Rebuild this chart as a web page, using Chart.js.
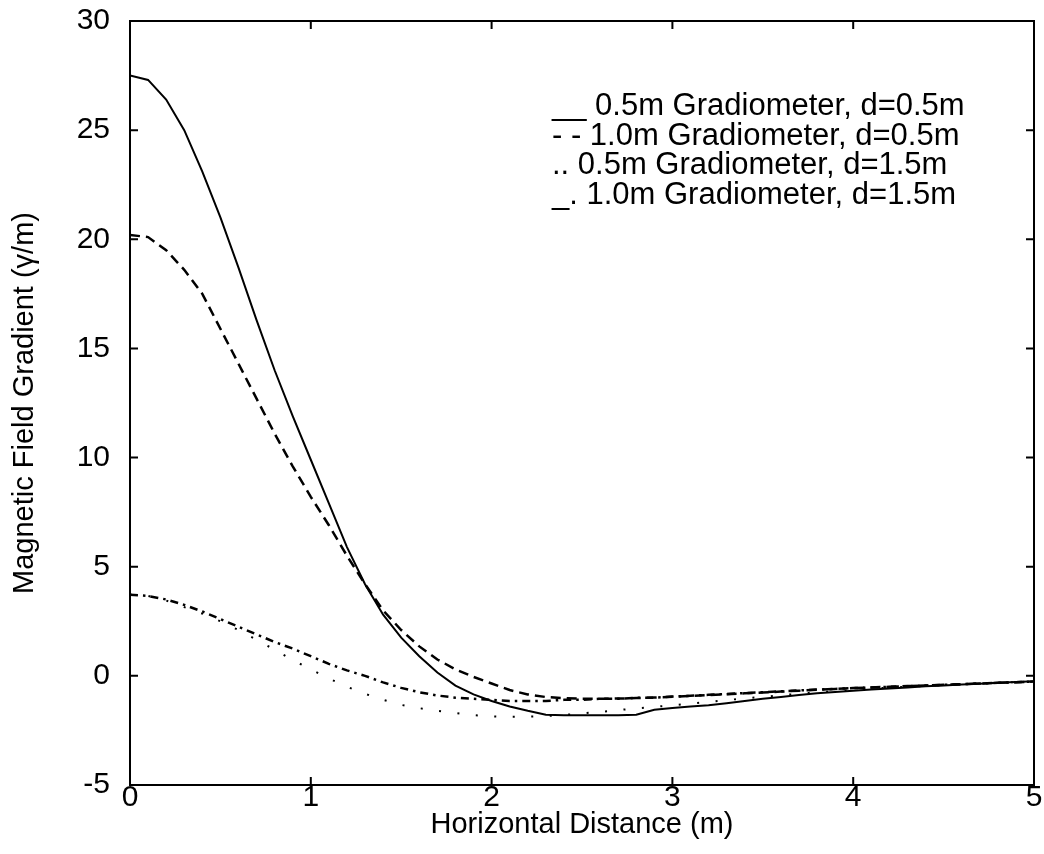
<!DOCTYPE html>
<html>
<head>
<meta charset="utf-8">
<title>Magnetic Field Gradient</title>
<script src="https://cdn.jsdelivr.net/npm/chart.js@4.4.1/dist/chart.umd.min.js"></script>
<style>
  html, body { margin: 0; padding: 0; background: #fff; }
  #wrap { width: 1044px; height: 854px; position: relative; }
</style>
</head>
<body>
<div id="wrap"><canvas id="gradient-chart"></canvas></div>
<script>
// horizontal distance along the profile (m)
const distance = [
  0.0, 0.1, 0.2, 0.3, 0.4, 0.5, 0.6, 0.7, 0.8, 0.9,
  1.0, 1.1, 1.2, 1.3, 1.4, 1.5, 1.6, 1.7, 1.8, 1.9,
  2.0, 2.1, 2.2, 2.3, 2.4, 2.5, 2.6, 2.7, 2.8, 2.9,
  3.0, 3.1, 3.2, 3.3, 3.4, 3.5, 3.6, 3.7, 3.8, 3.9,
  4.0, 4.1, 4.2, 4.3, 4.4, 4.5, 4.6, 4.7, 4.8, 4.9, 5.0
];

// gradient in gamma/m for each gradiometer / depth combination
const grad05_d05 = [
  27.5, 27.3, 26.4, 25.0, 23.1, 21.0, 18.7, 16.3, 14.0, 11.9,
  9.9, 7.9, 5.9, 4.2, 2.8, 1.75, 0.9, 0.15, -0.45, -0.85,
  -1.15, -1.4, -1.6, -1.78, -1.8, -1.8, -1.8, -1.8, -1.78, -1.55,
  -1.47, -1.4, -1.35, -1.25, -1.15, -1.05, -0.97, -0.88, -0.8, -0.74,
  -0.68, -0.63, -0.58, -0.53, -0.48, -0.44, -0.4, -0.36, -0.32, -0.28, -0.25
];
const grad10_d05 = [
  20.2, 20.1, 19.5, 18.6, 17.5, 15.9, 14.3, 12.7, 11.1, 9.6,
  8.2, 6.9, 5.5, 4.2, 3.0, 2.1, 1.35, 0.75, 0.3, -0.05,
  -0.35, -0.65, -0.85, -0.97, -1.02, -1.05, -1.05, -1.04, -1.02, -0.99,
  -0.96, -0.92, -0.88, -0.84, -0.8, -0.76, -0.72, -0.68, -0.64, -0.6,
  -0.56, -0.53, -0.5, -0.47, -0.44, -0.41, -0.38, -0.35, -0.32, -0.29, -0.26
];
const grad05_d15 = [
  3.72, 3.66, 3.45, 3.15, 2.85, 2.5, 2.1, 1.65, 1.2, 0.72,
  0.3, -0.12, -0.5, -0.82, -1.1, -1.33, -1.48, -1.6, -1.7, -1.8,
  -1.86, -1.88, -1.87, -1.84, -1.79, -1.72, -1.65, -1.57, -1.49, -1.42,
  -1.35, -1.27, -1.19, -1.11, -1.03, -0.96, -0.89, -0.82, -0.76, -0.7,
  -0.64, -0.59, -0.54, -0.5, -0.46, -0.42, -0.38, -0.35, -0.32, -0.29, -0.26
];
const grad10_d15 = [
  3.72, 3.66, 3.5, 3.25, 2.95, 2.6, 2.25, 1.9, 1.55, 1.25,
  0.9, 0.55, 0.25, 0.0, -0.3, -0.55, -0.75, -0.9, -1.0, -1.05,
  -1.1, -1.15, -1.15, -1.15, -1.1, -1.1, -1.05, -1.05, -1.0, -1.0,
  -0.95, -0.91, -0.87, -0.83, -0.79, -0.75, -0.71, -0.67, -0.63, -0.6,
  -0.56, -0.53, -0.5, -0.47, -0.44, -0.41, -0.38, -0.35, -0.32, -0.29, -0.26
];

const legendLines = [
  "__ 0.5m Gradiometer, d=0.5m",
  "- - 1.0m Gradiometer, d=0.5m",
  ".. 0.5m Gradiometer, d=1.5m",
  "_. 1.0m Gradiometer, d=1.5m"
];

const xTicks = [0, 1, 2, 3, 4, 5];
const yTicks = [-5, 0, 5, 10, 15, 20, 25, 30];

const FONT = "'Liberation Sans', Arial, Helvetica, sans-serif";

function toPoints(values) {
  return distance.map((d, i) => ({ x: d, y: values[i] }));
}

function lineSet(label, values, dash, width) {
  return {
    label: label,
    data: toPoints(values),
    borderColor: "#000",
    backgroundColor: "#000",
    borderWidth: width,
    borderDash: dash,
    borderCapStyle: "butt",
    pointRadius: 0,
    tension: 0,
    fill: false
  };
}

// box around the plot, ticks pointing inwards on every side, and the text legend
const framePlugin = {
  id: "frame",
  afterDatasetsDraw(chart) {
    const ctx = chart.ctx;
    const a = chart.chartArea;
    const xs = chart.scales.x;
    const ys = chart.scales.y;
    const len = 8;
    ctx.save();
    ctx.strokeStyle = "#000";
    ctx.lineWidth = 2;
    ctx.strokeRect(a.left, a.top, a.right - a.left, a.bottom - a.top);
    ctx.beginPath();
    xTicks.forEach(v => {
      const px = xs.getPixelForValue(v);
      ctx.moveTo(px, a.bottom); ctx.lineTo(px, a.bottom - len);
      ctx.moveTo(px, a.top); ctx.lineTo(px, a.top + len);
    });
    yTicks.forEach(v => {
      const py = ys.getPixelForValue(v);
      ctx.moveTo(a.left, py); ctx.lineTo(a.left + len, py);
      ctx.moveTo(a.right, py); ctx.lineTo(a.right - len, py);
    });
    ctx.stroke();

    ctx.fillStyle = "#000";
    ctx.font = "31px " + FONT;
    ctx.textBaseline = "alphabetic";
    ctx.textAlign = "left";
    legendLines.forEach((t, i) => {
      ctx.fillText(t, a.left + 422, a.top + 94 + i * 29.5);
    });
    ctx.restore();
  }
};

new Chart("gradient-chart", {
  type: "line",
  data: {
    datasets: [
      lineSet("0.5m Gradiometer, d=0.5m", grad05_d05, [], 2),
      lineSet("1.0m Gradiometer, d=0.5m", grad10_d05, [10, 6], 2.5),
      lineSet("0.5m Gradiometer, d=1.5m", grad05_d15, [2, 16.5], 2),
      lineSet("1.0m Gradiometer, d=1.5m", grad10_d15, [8, 5, 2.5, 5], 2.5)
    ]
  },
  options: {
    responsive: true,
    maintainAspectRatio: false,
    animation: false,
    layout: { padding: { top: 21, right: 10, left: 0, bottom: 0 } },
    plugins: {
      legend: { display: false },
      tooltip: { enabled: false }
    },
    scales: {
      x: {
        type: "linear",
        min: 0,
        max: 5,
        grid: { display: false, drawTicks: false },
        border: { display: false },
        ticks: {
          stepSize: 1,
          padding: -5,
          color: "#000",
          font: { family: FONT, size: 30 }
        },
        title: {
          display: true,
          text: "Horizontal Distance (m)",
          color: "#000",
          font: { family: FONT, size: 29 },
          padding: { top: 0, bottom: 12 }
        },
        afterFit(scale) {
          scale.height = 69;
          scale.paddingLeft = 0;
          scale.paddingRight = 0;
        }
      },
      y: {
        type: "linear",
        min: -5,
        max: 30,
        grid: { display: false, drawTicks: false },
        border: { display: false },
        ticks: {
          stepSize: 5,
          padding: 20,
          color: "#000",
          font: { family: FONT, size: 30 }
        },
        title: {
          display: true,
          text: "Magnetic Field Gradient (γ/m)",
          color: "#000",
          font: { family: FONT, size: 29 },
          padding: { top: 8, bottom: 0 }
        },
        afterFit(scale) {
          scale.width = 130;
          scale.paddingTop = 0;
          scale.paddingBottom = 0;
        }
      }
    }
  },
  plugins: [framePlugin]
});
</script>
</body>
</html>
